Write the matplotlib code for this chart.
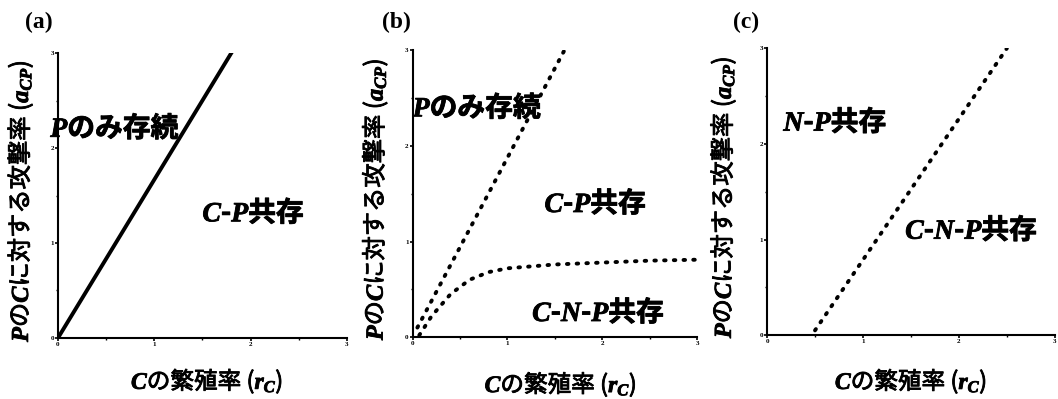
import numpy as np
import matplotlib
matplotlib.use('Agg')
import matplotlib.pyplot as plt
import matplotlib.patheffects as pe

plt.rcParams['font.family'] = ['Noto Sans CJK JP', 'DejaVu Sans']
plt.rcParams['font.weight'] = 'bold'
plt.rcParams['mathtext.fontset'] = 'custom'
plt.rcParams['mathtext.rm'] = 'Noto Sans CJK JP:bold'
plt.rcParams['mathtext.it'] = 'Liberation Serif:italic:bold'

# boundary lines
a_x = [0.0, 1.8]
a_y = [0.0, 3.0]

b_up_x = [0.05, 1.6]
b_up_y = [0.1, 3.0]
b_low_x = [0.07, 0.2, 0.4, 0.6, 0.8, 1.0, 1.5, 2.0, 2.5, 3.0]
b_low_y = [0.02, 0.22, 0.45, 0.6, 0.68, 0.72, 0.76, 0.78, 0.8, 0.81]

c_x = [0.5, 2.5]
c_y = [0.05, 3.0]

ticks = [0, 1, 2, 3]

ylab = r'$\mathit{P}$の$\mathit{C}$に対する攻撃率 ($\mathit{a}_{\mathit{CP}}$)'
xlab = r'$\mathit{C}$の繁殖率 ($\mathit{r}_{\mathit{C}}$)'

bold = [pe.withStroke(linewidth=0.6, foreground='black')]
dots = (0, (0.4, 2.1))

fig = plt.figure(figsize=(10.58, 3.99), dpi=100)
pos = [[0.0548, 0.153, 0.273, 0.714],
       [0.390, 0.155, 0.269, 0.719],
       [0.725, 0.160, 0.272, 0.719]]
ylab_xy = [(-0.131, 0.48), (-0.133, 0.48), (-0.153, 0.48)]
xlab_xy = [(0.516, -0.151), (0.52, -0.164), (0.50, -0.16)]
axes = [fig.add_axes(p) for p in pos]

for ax, yl, xl in zip(axes, ylab_xy, xlab_xy):
    ax.set_xlim(0, 3)
    ax.set_ylim(0, 3)
    ax.spines['top'].set_visible(False)
    ax.spines['right'].set_visible(False)
    ax.spines['left'].set_linewidth(1.5)
    ax.spines['bottom'].set_linewidth(1.5)
    ax.set_xticks(ticks)
    ax.set_yticks(ticks)
    ax.set_xticks([0.5, 1.5, 2.5], minor=True)
    ax.set_yticks([0.5, 1.5, 2.5], minor=True)
    ax.tick_params(which='major', length=2, width=1.2, pad=1)
    ax.tick_params(which='minor', length=1.5, width=1)
    for lab in ax.get_xticklabels() + ax.get_yticklabels():
        lab.set_fontfamily('Liberation Serif')
        lab.set_fontsize(5)
        lab.set_fontweight('bold')
    ax.set_xlabel(xlab, fontsize=17, va='center', path_effects=bold)
    ax.set_ylabel(ylab, fontsize=17.5, va='center', path_effects=bold)
    ax.xaxis.set_label_coords(*xl)
    ax.yaxis.set_label_coords(*yl)

ax = axes[0]
ax.plot(a_x, a_y, color='black', lw=2.8)
ax.text(-0.08, 2.21, r'$\mathit{P}$のみ存続', fontsize=20, va='center', ha='left', path_effects=bold)
ax.text(1.5, 1.32, r'$\mathit{C}$-$\mathit{P}$共存', fontsize=20, va='center', ha='left', path_effects=bold)

ax = axes[1]
ax.plot(b_up_x, b_up_y, color='black', lw=2.8, linestyle=dots, dash_capstyle='round')
ax.plot(b_low_x, b_low_y, color='black', lw=2.8, linestyle=dots, dash_capstyle='round')
ax.text(0.0, 2.40, r'$\mathit{P}$のみ存続', fontsize=20, va='center', ha='left', path_effects=bold)
ax.text(1.39, 1.40, r'$\mathit{C}$-$\mathit{P}$共存', fontsize=20, va='center', ha='left', path_effects=bold)
ax.text(1.26, 0.26, r'$\mathit{C}$-$\mathit{N}$-$\mathit{P}$共存', fontsize=20, va='center', ha='left', path_effects=bold)

ax = axes[2]
ax.plot(c_x, c_y, color='black', lw=2.8, linestyle=dots, dash_capstyle='round')
ax.text(0.17, 2.23, r'$\mathit{N}$-$\mathit{P}$共存', fontsize=20, va='center', ha='left', path_effects=bold)
ax.text(1.44, 1.10, r'$\mathit{C}$-$\mathit{N}$-$\mathit{P}$共存', fontsize=20, va='center', ha='left', path_effects=bold)

for lab, x in zip(['(a)', '(b)', '(c)'], [25, 382, 733]):
    fig.text(x / 1058, 1 - 22 / 399, lab, fontsize=17, fontfamily='Liberation Serif',
             fontweight='bold', va='center', ha='left')

fig.savefig('out.png', dpi=100)
